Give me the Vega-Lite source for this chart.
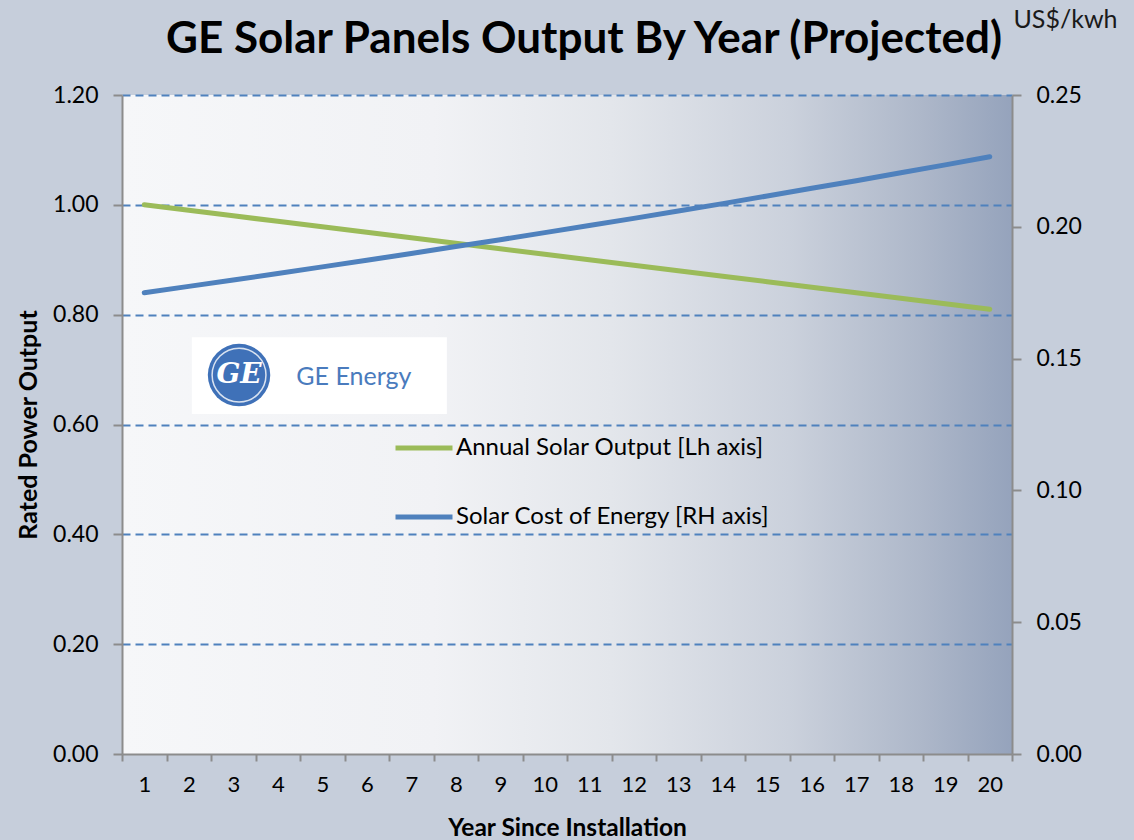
{
  "$schema": "https://vega.github.io/schema/vega-lite/v6.json",
  "width": 890,
  "height": 659,
  "autosize": {"type": "none"},
  "padding": {"left": 122, "top": 95, "right": 122, "bottom": 86},
  "background": "#c6cedb",
  "title": {
    "text": "GE Solar Panels Output By Year (Projected)",
    "font": "Lato",
    "fontSize": 44,
    "fontWeight": "bold",
    "color": "#000000",
    "anchor": "middle",
    "frame": "group",
    "baseline": "alphabetic",
    "offset": -90,
    "dx": 17
  },
  "data": {
    "values": [
      {"year": 1, "output": 1.00, "cost": 0.1750},
      {"year": 2, "output": 0.99, "cost": 0.1774},
      {"year": 3, "output": 0.98, "cost": 0.1798},
      {"year": 4, "output": 0.97, "cost": 0.1823},
      {"year": 5, "output": 0.96, "cost": 0.1848},
      {"year": 6, "output": 0.95, "cost": 0.1873},
      {"year": 7, "output": 0.94, "cost": 0.1899},
      {"year": 8, "output": 0.93, "cost": 0.1925},
      {"year": 9, "output": 0.92, "cost": 0.1951},
      {"year": 10, "output": 0.91, "cost": 0.1978},
      {"year": 11, "output": 0.90, "cost": 0.2005},
      {"year": 12, "output": 0.89, "cost": 0.2032},
      {"year": 13, "output": 0.88, "cost": 0.2060},
      {"year": 14, "output": 0.87, "cost": 0.2088},
      {"year": 15, "output": 0.86, "cost": 0.2117},
      {"year": 16, "output": 0.85, "cost": 0.2146},
      {"year": 17, "output": 0.84, "cost": 0.2175},
      {"year": 18, "output": 0.83, "cost": 0.2205},
      {"year": 19, "output": 0.82, "cost": 0.2235},
      {"year": 20, "output": 0.81, "cost": 0.2266}
    ]
  },
  "layer": [
    {
      "data": {"values": [{"name": "logo"}]},
      "mark": {"type": "rect", "color": "#ffffff"},
      "encoding": {
        "x": {"datum": 2.07, "type": "quantitative", "scale": {"domain": [0.5, 20.5], "nice": false, "zero": false}, "axis": null},
        "x2": {"datum": 7.8},
        "y": {"datum": 0.619, "type": "quantitative", "scale": {"domain": [0, 1.2], "nice": false}, "axis": null},
        "y2": {"datum": 0.759}
      }
    },
    {
      "data": {"values": [{"name": "logo"}]},
      "mark": {"type": "point", "shape": "circle", "filled": true, "color": "#3f71b8", "size": 3900, "opacity": 1},
      "encoding": {
        "x": {"datum": 3.13, "type": "quantitative", "scale": {"domain": [0.5, 20.5], "nice": false, "zero": false}, "axis": null},
        "y": {"datum": 0.69, "type": "quantitative", "scale": {"domain": [0, 1.2], "nice": false}, "axis": null}
      }
    },
    {
      "data": {"values": [{"name": "logo"}]},
      "mark": {"type": "point", "shape": "circle", "filled": false, "color": "#ffffff", "size": 2900, "strokeWidth": 1.5, "opacity": 0.8},
      "encoding": {
        "x": {"datum": 3.13, "type": "quantitative", "scale": {"domain": [0.5, 20.5], "nice": false, "zero": false}, "axis": null},
        "y": {"datum": 0.69, "type": "quantitative", "scale": {"domain": [0, 1.2], "nice": false}, "axis": null}
      }
    },
    {
      "data": {"values": [{"name": "logo"}]},
      "mark": {"type": "text", "text": "GE", "font": "DejaVu Serif", "fontStyle": "italic", "fontWeight": "bold", "fontSize": 28, "color": "#ffffff", "align": "center", "baseline": "middle"},
      "encoding": {
        "x": {"datum": 3.13, "type": "quantitative", "scale": {"domain": [0.5, 20.5], "nice": false, "zero": false}, "axis": null},
        "y": {"datum": 0.69, "type": "quantitative", "scale": {"domain": [0, 1.2], "nice": false}, "axis": null}
      }
    },
    {
      "data": {"values": [{"name": "logo"}]},
      "mark": {"type": "text", "text": "GE Energy", "font": "Lato", "fontSize": 25, "color": "#4a7bbd", "align": "center", "baseline": "middle"},
      "encoding": {
        "x": {"datum": 5.71, "type": "quantitative", "scale": {"domain": [0.5, 20.5], "nice": false, "zero": false}, "axis": null},
        "y": {"datum": 0.686, "type": "quantitative", "scale": {"domain": [0, 1.2], "nice": false}, "axis": null}
      }
    },
    {
      "mark": {"type": "line", "strokeWidth": 5, "strokeCap": "round", "strokeJoin": "round"},
      "encoding": {
        "x": {
          "field": "year", "type": "ordinal", "bandPosition": 0.5,
          "scale": {"type": "band", "paddingInner": 0, "paddingOuter": 0},
          "axis": {
            "title": "Year Since Installation",
            "titleFont": "Lato", "titleFontSize": 24.5, "titleFontWeight": "bold", "titleColor": "#000000",
            "titleY": 74, "titleBaseline": "middle",
            "labelFont": "Lato", "labelFontSize": 22, "labelColor": "#000000", "labelAngle": 0,
            "labelPadding": 13,
            "tickBand": "extent", "tickSize": 7, "tickColor": "#8c8c8c", "tickWidth": 2,
            "domainColor": "#8c8c8c", "domainWidth": 2, "grid": false
          }
        },
        "y": {
          "field": "output", "type": "quantitative",
          "scale": {"domain": [0, 1.2], "nice": false},
          "axis": {
            "title": "Rated Power Output",
            "titleFont": "Lato", "titleFontSize": 25, "titleFontWeight": "bold", "titleColor": "#000000",
            "titleX": -94, "titleY": 329.5, "titleBaseline": "middle", "titleAngle": -90,
            "values": [0, 0.2, 0.4, 0.6, 0.8, 1.0, 1.2], "format": ".2f",
            "labelFont": "Lato", "labelFontSize": 23, "labelColor": "#000000", "labelPadding": 15,
            "tickSize": 9, "tickColor": "#8c8c8c", "tickWidth": 2,
            "domainColor": "#8c8c8c", "domainWidth": 2,
            "grid": true, "gridColor": "#4f81bd", "gridDash": [8, 5], "gridWidth": 1.8,
            "gridOpacity": {"condition": {"test": "datum.value === 0", "value": 0}, "value": 1}
          }
        },
        "color": {"datum": "Annual Solar Output [Lh axis]", "type": "nominal"}
      }
    },
    {
      "mark": {"type": "line", "strokeWidth": 5, "strokeCap": "round", "strokeJoin": "round"},
      "encoding": {
        "x": {
          "field": "year", "type": "ordinal", "bandPosition": 0.5,
          "scale": {"type": "band", "paddingInner": 0, "paddingOuter": 0},
          "axis": null
        },
        "y": {
          "field": "cost", "type": "quantitative",
          "scale": {"domain": [0, 0.25], "nice": false},
          "axis": {
            "orient": "right",
            "title": "US$/kwh",
            "titleFont": "Lato", "titleFontSize": 25, "titleFontWeight": "normal", "titleColor": "#1a1a1a",
            "titleAngle": 0, "titleX": 53, "titleY": -76, "titleAlign": "center", "titleBaseline": "middle",
            "values": [0, 0.05, 0.1, 0.15, 0.2, 0.25], "format": ".2f",
            "labelFont": "Lato", "labelFontSize": 23, "labelColor": "#000000", "labelPadding": 15,
            "tickSize": 9, "tickColor": "#8c8c8c", "tickWidth": 2,
            "domainColor": "#8c8c8c", "domainWidth": 2, "grid": false
          }
        },
        "color": {"datum": "Solar Cost of Energy [RH axis]", "type": "nominal"}
      }
    }
  ],
  "resolve": {"scale": {"x": "independent", "y": "independent", "color": "shared"}},
  "config": {
    "view": {
      "stroke": null,
      "fill": {
        "gradient": "linear", "x1": 0, "y1": 0, "x2": 1, "y2": 0,
        "stops": [
          {"offset": 0, "color": "#f6f7f9"},
          {"offset": 0.35, "color": "#f1f2f5"},
          {"offset": 0.55, "color": "#e3e6eb"},
          {"offset": 0.75, "color": "#cbd1dc"},
          {"offset": 0.9, "color": "#adb7c9"},
          {"offset": 1, "color": "#95a3bc"}
        ]
      }
    },
    "range": {"category": ["#9bbb59", "#4f81bd"]},
    "legend": {
      "orient": "none",
      "legendX": 271,
      "legendY": 322,
      "title": null,
      "padding": 0,
      "symbolType": "stroke",
      "symbolSize": 3249,
      "symbolStrokeWidth": 5,
      "rowPadding": 26,
      "labelOffset": 1,
      "labelFont": "Lato",
      "labelFontSize": 24,
      "labelColor": "#000000",
      "labelLimit": 500
    }
  }
}
